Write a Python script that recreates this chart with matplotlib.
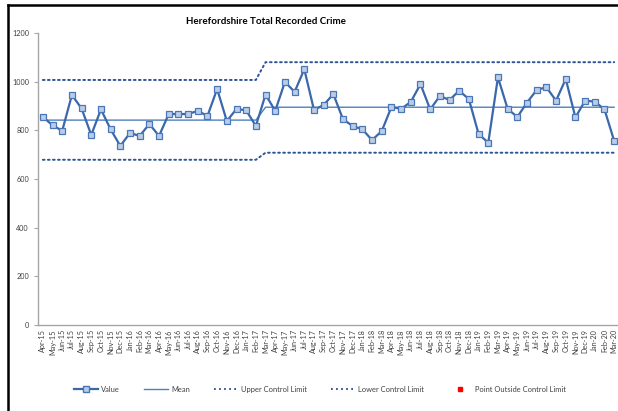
import matplotlib
matplotlib.use("Agg")
import matplotlib.pyplot as plt
from matplotlib.lines import Line2D

plt.rcParams['font.family'] = ['Lato', 'DejaVu Sans']

# mois (avr. 2015 -> mars 2020)
mois = ["Apr-15", "May-15", "Jun-15", "Jul-15", "Aug-15", "Sep-15", "Oct-15", "Nov-15", "Dec-15",
        "Jan-16", "Feb-16", "Mar-16", "Apr-16", "May-16", "Jun-16", "Jul-16", "Aug-16", "Sep-16",
        "Oct-16", "Nov-16", "Dec-16", "Jan-17", "Feb-17", "Mar-17", "Apr-17", "May-17", "Jun-17",
        "Jul-17", "Aug-17", "Sep-17", "Oct-17", "Nov-17", "Dec-17", "Jan-18", "Feb-18", "Mar-18",
        "Apr-18", "May-18", "Jun-18", "Jul-18", "Aug-18", "Sep-18", "Oct-18", "Nov-18", "Dec-18",
        "Jan-19", "Feb-19", "Mar-19", "Apr-19", "May-19", "Jun-19", "Jul-19", "Aug-19", "Sep-19",
        "Oct-19", "Nov-19", "Dec-19", "Jan-20", "Feb-20", "Mar-20"]

valeurs = [855, 821, 798, 945, 890, 781, 886, 804, 736, 789, 777, 826, 777, 867, 867, 867,
           880, 859, 970, 838, 888, 882, 818, 947, 880, 999, 958, 1051, 884, 904, 949, 845,
           818, 804, 760, 797, 896, 888, 917, 990, 886, 941, 925, 963, 928, 785, 749, 1018,
           888, 855, 914, 966, 977, 922, 1011, 853, 922, 918, 886, 757]

# deux periodes (changement en mars 2017)
debut_periodes = [0, 23]
moyennes = [842, 895]
limites_hautes = [1007, 1080]
limites_basses = [679, 708]


def etendre(niveaux):
    res = []
    bornes = debut_periodes + [len(valeurs)]
    for k, niv in enumerate(niveaux):
        res += [niv] * (bornes[k + 1] - bornes[k])
    return res


W, H = 618, 411
fig = plt.figure(figsize=(W / 100, H / 100), dpi=100)
ax = fig.add_axes([38 / W, (H - 325) / H, 581 / W, 292 / H])

x = list(range(len(valeurs)))
bleu = "#3B68AB"
bleu_pointille = "#2E5597"
pointille = (0, (0.9, 1.7))

ax.plot(x, etendre(limites_hautes), linestyle=pointille, color=bleu_pointille,
        linewidth=1.4, dash_capstyle="round")
ax.plot(x, etendre(limites_basses), linestyle=pointille, color=bleu_pointille,
        linewidth=1.4, dash_capstyle="round")
ax.plot(x, etendre(moyennes), color="#4F81BD", linewidth=1.0)
ax.plot(x, valeurs, color=bleu, linewidth=1.6, marker="s", markersize=3.7,
        markerfacecolor="#B9CDE8", markeredgecolor="#4A76B8", markeredgewidth=0.9)

ax.set_xlim(-0.5, len(valeurs) - 0.5)
ax.set_ylim(0, 1200)
ax.set_yticks(range(0, 1201, 200))
ax.set_xticks(x)
ax.set_xticklabels(mois, rotation=90, fontsize=5.2, color="#404040")
ax.tick_params(axis="y", labelsize=5.2, labelcolor="#404040", length=3, color="#A6A6A6", width=0.8)
ax.tick_params(axis="x", length=0, pad=3)
for s in ["top", "right"]:
    ax.spines[s].set_visible(False)
for s in ["left", "bottom"]:
    ax.spines[s].set_color("#A6A6A6")
    ax.spines[s].set_linewidth(1.0)

fig.text(266 / W, 1 - 21 / H, "Herefordshire Total Recorded Crime", ha="center", va="center",
         fontsize=7, fontweight="bold", color="#000000")

poignees = [
    Line2D([], [], color=bleu, linewidth=1.6, marker="s", markersize=3.7,
           markerfacecolor="#B9CDE8", markeredgecolor="#4A76B8"),
    Line2D([], [], color="#4F81BD", linewidth=1.0),
    Line2D([], [], color=bleu_pointille, linestyle=pointille, linewidth=1.4),
    Line2D([], [], color=bleu_pointille, linestyle=pointille, linewidth=1.4),
    Line2D([], [], color="red", linestyle="none", marker="s", markersize=3),
]
noms = ["Value", "Mean", "Upper Control Limit", "Lower Control Limit", "Point Outside Control Limit"]
fig.legend(poignees, noms, loc="center", bbox_to_anchor=(320 / W, 1 - 389 / H), ncol=5,
           frameon=False, fontsize=5.4, handlelength=3.2, handletextpad=0.4, columnspacing=3.2,
           labelcolor="#404040")

# cadre noir (gauche et haut)
fig.add_artist(Line2D([8 / W, 8 / W], [0, 1 - 5 / H], transform=fig.transFigure,
                      color="black", linewidth=1.8))
fig.add_artist(Line2D([8 / W, 1], [1 - 5 / H, 1 - 5 / H], transform=fig.transFigure,
                      color="black", linewidth=1.8))

fig.savefig("out.png", dpi=100)
